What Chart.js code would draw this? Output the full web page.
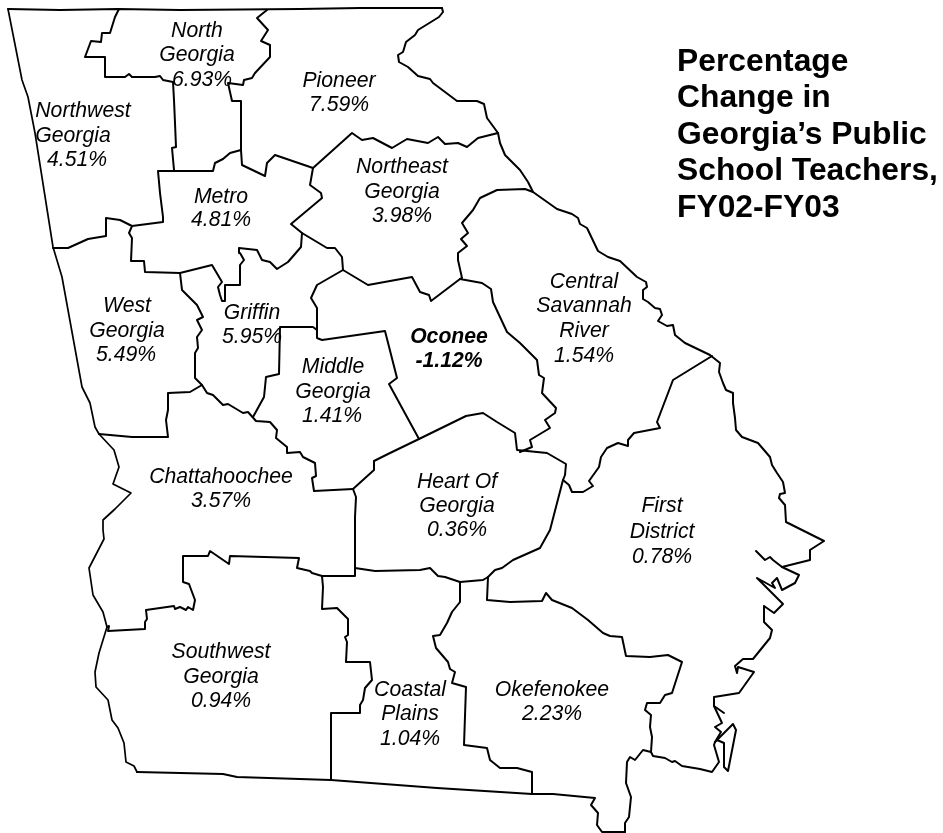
<!DOCTYPE html>
<html>
<head>
<meta charset="utf-8">
<title>Percentage Change in Georgia's Public School Teachers, FY02-FY03</title>
<style>html,body{margin:0;padding:0;background:#fff}canvas{display:block}</style>
<script src="https://cdn.jsdelivr.net/npm/chart.js@4"></script>
</head>
<body>
<canvas id="c" width="943" height="833"></canvas>
<script>
const titleLines = ["Percentage","Change in","Georgia\u2019s Public","School Teachers,","FY02-FY03"];
const regionNames = ["North|Georgia","Pioneer","Northwest|Georgia","Metro","Northeast|Georgia","Central|Savannah|River","Oconee","West|Georgia","Griffin","Middle|Georgia","Chattahoochee","Heart Of|Georgia","First|District","Southwest|Georgia","Coastal|Plains","Okefenokee"];
const regionValues = [6.93,7.59,4.51,4.81,3.98,1.54,-1.12,5.49,5.95,1.41,3.57,0.36,0.78,0.94,1.04,2.23];
// map coordinates of each line of each region's label (first line centre, one per line)
const labelAnchors = [
 [[197,31],[197,55],[202,80]],[[339,81],[339,105]],[[83,111],[73,136],[77,160]],[[221,197],[221,220]],
 [[402,167],[402,192],[402,216]],[[584,282],[584,306],[584,331],[584,356]],[[449,337],[449,361]],
 [[127,306],[127,331],[126,355]],[[252,313],[252,337]],[[333,367],[333,392],[332,416]],[[221,477],[221,501]],
 [[457,482],[457,506],[457,530]],[[662,506],[662,532],[662,557]],[[221,652],[221,677],[221,701]],
 [[410,690],[410,714],[410,739]],[[552,690],[552,714]]];

const northBorder = [[8,9],[60,10],[118,9],[180,10],[300,9],[360,8],[442,8]];
const westBorder = [[8,9],[22,80],[28,97],[35,133],[53,247],[62,277],[82,387],[90,403],[95,427],[99,434],[114,450],[119,467],[113,484],[131,493],[115,509],[103,520],[103,530],[104,539],[89,568],[93,595],[103,612],[107,627],[99,653],[95,672],[96,687],[108,700],[112,720],[118,728],[124,743],[126,762],[134,766],[137,772]];
const southBorder = [[137,772],[223,774],[237,777],[331,780],[437,788],[532,794],[553,794],[595,798],[591,805],[598,813],[597,825],[602,832],[625,832]];
const savannahRiver = [[442,8],[443,12],[439,17],[418,30],[415,35],[406,42],[403,52],[398,55],[399,62],[408,67],[418,76],[430,79],[433,83],[457,101],[477,101],[484,104],[487,118],[498,133],[500,143],[505,155],[520,170],[528,182],[533,192],[557,209],[572,214],[578,218],[580,224],[587,228],[598,251],[608,257],[620,261],[637,277],[646,282],[647,287],[643,290],[643,299],[648,302],[655,308],[660,309],[662,315],[658,321],[667,326],[673,325],[675,335],[685,343],[710,355],[720,363],[719,372],[723,383],[726,390],[733,393],[733,403],[735,418],[736,430],[742,437],[758,443],[770,457],[772,465],[777,473],[783,482],[785,493],[780,494],[779,498],[785,505],[786,522],[824,541],[810,550],[810,560],[782,567]];
const coastInlet = [[756,551],[765,560],[770,557],[773,560],[782,567],[799,575],[795,583],[782,590],[777,578],[772,583],[775,588],[757,578],[783,604],[774,613],[764,606],[764,622],[772,630],[770,638],[753,659],[743,659],[735,666],[737,673],[738,667],[754,672],[739,693],[714,697],[714,706],[722,723],[715,727],[721,732],[715,742],[714,745],[719,762],[712,772],[700,769],[682,766],[675,761],[672,762],[665,758],[653,756],[651,752]];
const coastSpur = [[714,706],[724,713]];
const barrierIsland = [[715,742],[733,724],[736,730],[728,771],[724,767],[724,743],[717,740]];
const northGeorgiaWest = [[119,9],[115,17],[110,33],[102,33],[101,42],[91,41],[85,57],[105,57],[105,77],[125,77],[129,74],[132,77],[155,77],[160,76],[163,80],[173,82],[174,100],[175,123],[176,147],[172,148],[174,170]];
const northGeorgiaEast = [[267,10],[257,18],[268,30],[261,41],[270,45],[270,57],[255,73],[252,78],[244,80],[243,85],[228,83],[232,101],[241,101],[241,150],[230,153],[223,159],[215,163],[213,171],[158,171],[160,193],[163,217],[163,222],[132,226]];
const northwestSouth = [[53,248],[68,248],[88,239],[106,236],[106,218],[120,220],[132,226],[129,233],[132,238],[131,261],[144,261],[145,272],[180,273],[212,265],[222,282],[218,287],[220,295],[222,301],[225,301],[225,285],[239,285],[240,265],[244,260],[240,253],[239,248],[257,250],[262,260],[270,262],[277,269],[288,262],[301,247],[302,233]];
const metroEast = [[241,150],[242,165],[265,176],[267,163],[275,155],[313,168],[310,185],[321,193],[322,198],[291,224],[302,233],[327,248],[335,248],[342,257],[343,270],[368,285],[412,277],[420,292],[429,295],[431,301],[460,279]];
const northeastNorth = [[313,168],[352,133],[362,140],[373,138],[392,148],[407,139],[428,143],[438,137],[445,144],[458,143],[467,147],[478,138],[498,133]];
const savannahWest = [[533,192],[525,189],[497,190],[480,198],[473,210],[462,223],[468,233],[461,239],[467,246],[458,253],[458,260],[462,278],[460,279],[482,283],[491,289],[493,302],[507,332],[520,343],[537,360],[539,375],[544,378],[542,393],[556,408],[555,413],[545,420],[550,428],[530,440],[532,447],[520,452]];
const oconeeWest = [[343,270],[317,285],[311,298],[317,308],[317,338],[322,340],[385,331],[397,378],[389,384],[419,439]];
const griffinMiddle = [[317,330],[313,327],[280,327],[279,374],[266,377],[264,397],[253,417]];
const griffinWest = [[180,273],[182,290],[197,305],[203,317],[197,320],[202,330],[197,337],[198,348],[195,353],[195,378],[202,385],[207,393],[213,395],[223,405],[228,404],[243,413],[248,412],[256,421],[270,422],[277,430],[276,438],[287,447],[287,453],[300,452],[303,457],[315,463],[316,476],[312,478],[314,491],[353,489]];
const westSouth = [[202,385],[190,392],[168,393],[168,410],[166,420],[168,437],[132,437],[99,434]];
const heartNorth = [[353,489],[374,470],[374,461],[388,454],[419,439],[466,416],[483,413],[497,422],[515,433],[517,450],[547,453],[566,464],[565,475],[563,480],[550,530],[540,548],[513,560],[502,568],[495,570],[488,577],[483,580],[460,582],[445,577],[438,576],[430,568],[420,570],[375,571],[355,568]];
const heartWest = [[353,489],[356,497],[355,517],[355,576],[322,576]];
const southwestNorth = [[322,576],[312,573],[310,571],[297,568],[299,558],[230,556],[229,564],[210,551],[208,556],[183,556],[183,582],[189,584],[195,600],[193,610],[188,607],[186,610],[180,607],[175,609],[174,606],[146,610],[147,619],[145,622],[145,629],[108,631],[109,626],[107,627]];
const southwestEast = [[322,576],[323,587],[322,609],[337,608],[348,619],[348,635],[345,637],[347,642],[346,662],[370,662],[372,680],[365,688],[363,700],[360,705],[360,713],[331,713],[331,780]];
const coastalEast = [[460,582],[460,602],[452,612],[447,623],[440,635],[433,636],[436,648],[448,662],[450,669],[455,672],[452,683],[466,687],[464,745],[487,748],[490,760],[500,768],[517,768],[532,772],[532,794]];
const okefenokeeNorth = [[488,577],[487,600],[510,602],[542,601],[546,593],[552,600],[572,608],[588,620],[603,633],[610,636],[622,637],[626,656],[650,657],[668,655],[682,662],[672,693],[665,695],[660,703],[647,703],[645,710],[651,715],[650,727],[652,737],[651,752],[643,750],[635,760],[630,757],[627,762],[626,783],[631,797],[629,817],[625,823],[625,832]];
const firstDistrictNorth = [[712,356],[673,380],[657,422],[660,428],[634,433],[628,440],[628,446],[618,443],[607,448],[601,457],[599,467],[589,481],[593,486],[583,492],[572,492],[569,485],[563,480]];

const boundaries = [northBorder,westBorder,southBorder,savannahRiver,coastInlet,coastSpur,barrierIsland,northGeorgiaWest,northGeorgiaEast,northwestSouth,metroEast,northeastNorth,savannahWest,oconeeWest,griffinMiddle,griffinWest,westSouth,heartNorth,heartWest,southwestNorth,southwestEast,coastalEast,okefenokeeNorth,firstDistrictNorth];

const labelPlugin = {
  id:'mapText',
  afterDatasetsDraw(chart){
    const {ctx,scales:{x,y}} = chart;
    ctx.save();
    ctx.fillStyle='#000';
    ctx.textBaseline='middle';
    ctx.textAlign='center';
    regionNames.forEach((name,i)=>{
      const lines = name.split('|').concat(regionValues[i].toFixed(2)+'%');
      const neg = regionValues[i] < 0;
      ctx.font = (neg?'italic bold ':'italic ')+'21.2px "Liberation Sans", Arial, sans-serif';
      lines.forEach((t,j)=>{
        const a = labelAnchors[i][j];
        ctx.fillText(t,x.getPixelForValue(a[0]),y.getPixelForValue(a[1]));
      });
    });
    ctx.textAlign='left';
    ctx.textBaseline='alphabetic';
    ctx.font='bold 31.8px "Liberation Sans", Arial, sans-serif';
    titleLines.forEach((t,j)=>ctx.fillText(t,x.getPixelForValue(677),y.getPixelForValue(71+36.4*j)));
    ctx.restore();
  }
};

new Chart(document.getElementById('c'),{
  type:'scatter',
  data:{datasets:boundaries.map(b=>({
    data:b.map(p=>({x:p[0],y:p[1]})),
    showLine:true,borderColor:'#000',borderWidth:b===westBorder?1.7:2,pointRadius:0,tension:0,fill:false,
    borderJoinStyle:'round',borderCapStyle:'round'
  }))},
  options:{
    responsive:false,animation:false,
    layout:{padding:0},
    plugins:{legend:{display:false},tooltip:{enabled:false},title:{display:false}},
    scales:{
      x:{type:'linear',min:0,max:943,display:false},
      y:{type:'linear',min:0,max:833,reverse:true,display:false}
    }
  },
  plugins:[labelPlugin]
});
</script>
</body>
</html>
